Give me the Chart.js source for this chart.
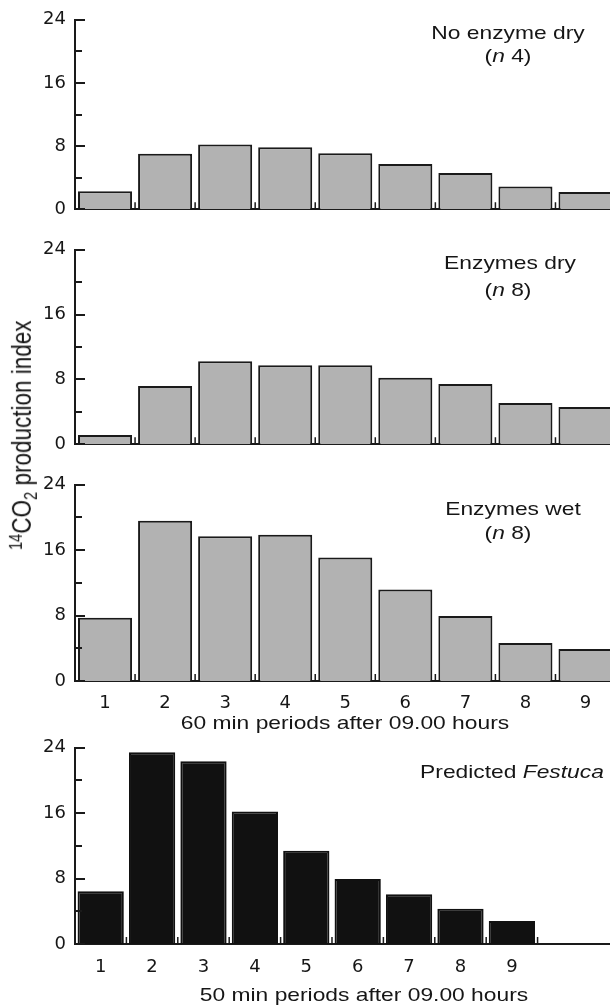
<!DOCTYPE html>
<html>
<head>
<meta charset="utf-8">
<script src="https://cdn.jsdelivr.net/npm/chart.js@4.4.1/dist/chart.umd.min.js"></script>
<style>
html,body{margin:0;padding:0;background:#fff;}
body{width:610px;height:1007px;position:relative;overflow:hidden;font-family:"Liberation Sans",Arial,sans-serif;color:#161616;}
.panel{position:absolute;left:0;}
.panel canvas{display:block;}
.lbl{position:absolute;width:400px;text-align:center;white-space:nowrap;font-size:19px;line-height:19px;transform:scaleX(1.2);transform-origin:50% 50%;}
.ytitle{position:absolute;left:-127.5px;top:423.75px;width:300px;height:22.5px;text-align:center;white-space:nowrap;font-size:22.5px;line-height:22.5px;transform:scaleX(1.2) rotate(-90deg);transform-origin:50% 50%;}
.sup{font-size:65%;position:relative;top:-0.55em;}
.sub{font-size:65%;position:relative;top:0.35em;}
</style>
</head>
<body>
<div class="panel" style="top:0px"><canvas id="c1" width="610" height="230"></canvas></div>
<div class="panel" style="top:230px"><canvas id="c2" width="610" height="235"></canvas></div>
<div class="panel" style="top:465px"><canvas id="c3" width="610" height="277"></canvas></div>
<div class="panel" style="top:728px"><canvas id="c4" width="610" height="279"></canvas></div>

<div class="lbl" style="left:307.5px;top:22.9px">No enzyme dry</div>
<div class="lbl" style="left:308px;top:45.7px">(<i>n</i> 4)</div>
<div class="lbl" style="left:309.5px;top:252.7px">Enzymes dry</div>
<div class="lbl" style="left:308px;top:279.5px">(<i>n</i> 8)</div>
<div class="lbl" style="left:313px;top:498.7px">Enzymes wet</div>
<div class="lbl" style="left:308px;top:522.7px">(<i>n</i> 8)</div>
<div class="lbl" style="left:312px;top:762.2px">Predicted <i>Festuca</i></div>
<div class="lbl" style="left:145px;top:713.4px">60 min periods after 09.00 hours</div>
<div class="lbl" style="left:164px;top:984.7px">50 min periods after 09.00 hours</div>
<div class="ytitle"><span class="sup">14</span>CO<span class="sub">2</span> production index</div>

<script>
// ---- data ----
const periods = [1, 2, 3, 4, 5, 6, 7, 8, 9];
const noEnzymeDry = [2.3, 7.05, 8.2, 7.85, 7.1, 5.75, 4.6, 2.9, 2.2];
const enzymesDry = [1.15, 7.2, 10.25, 9.75, 9.75, 8.2, 7.45, 5.1, 4.6];
const enzymesWet = [7.75, 19.6, 17.7, 17.9, 15.1, 11.2, 7.95, 4.65, 3.9];
const predictedFestuca = [6.45, 23.45, 22.35, 16.2, 11.4, 7.95, 6.1, 4.3, 2.8];
const yMax = 24;
const yStep = 4;
const yLabelStep = 8;

const AXIS = '#1a1a1a';
const TEXT = '#161616';

const frameTicks = {
  id: 'frameTicks',
  afterDatasetsDraw(chart, args, opts) {
    const {ctx, chartArea: a, scales: {x, y}} = chart;
    ctx.save();
    ctx.strokeStyle = opts.color;
    ctx.lineWidth = 2;
    ctx.beginPath();
    y.ticks.forEach(t => {
      const py = Math.round(y.getPixelForValue(t.value));
      const len = t.value % opts.labelStep === 0 ? 10 : 7;
      ctx.moveTo(a.left, py);
      ctx.lineTo(a.left + len, py);
    });
    ctx.stroke();
    ctx.lineWidth = 1.5;
    ctx.beginPath();
    opts.bounds.forEach(v => {
      const px = x.getPixelForValue(v);
      ctx.moveTo(px, a.bottom);
      ctx.lineTo(px, a.bottom - 7);
    });
    ctx.stroke();
    ctx.restore();
  }
};

function makePanel(id, values, cfg) {
  return new Chart(document.getElementById(id), {
    type: 'bar',
    data: {
      datasets: [{
        data: periods.map((p, i) => ({x: p, y: values[i]})),
        backgroundColor: cfg.fill,
        borderColor: cfg.edge,
        borderWidth: 2,
        barPercentage: 0.9,
        categoryPercentage: 1
      }]
    },
    options: {
      responsive: false,
      animation: false,
      events: [],
      layout: {padding: {top: cfg.padTop, right: 0, bottom: 0, left: 0}},
      plugins: {
        legend: {display: false},
        tooltip: {enabled: false},
        frameTicks: {color: AXIS, labelStep: yLabelStep, bounds: periods.map(p => p + 0.5)}
      },
      scales: {
        x: {
          type: 'linear',
          offset: false,
          min: 0.5,
          max: cfg.xMax,
          grid: {display: false, drawTicks: false, offset: false},
          border: {display: true, color: AXIS, width: 2},
          ticks: {
            display: cfg.showX,
            stepSize: 1,
            maxTicksLimit: 30,
            includeBounds: false,
            autoSkip: false,
            maxRotation: 0,
            padding: cfg.xPad,
            color: TEXT,
            font: {family: 'DejaVu Sans', size: 18},
            callback: v => periods.includes(v) ? String(v) : ''
          },
          afterFit: s => { s.height = cfg.xHeight; }
        },
        y: {
          min: 0,
          max: yMax,
          grid: {display: false, drawTicks: false},
          border: {display: true, color: AXIS, width: 2},
          ticks: {
            stepSize: yStep,
            padding: 9,
            color: TEXT,
            font: {family: 'DejaVu Sans', size: 18},
            callback: v => v % yLabelStep === 0 ? String(v) : ''
          },
          afterFit: s => { s.width = 75; }
        }
      }
    },
    plugins: [frameTicks]
  });
}

const GRAY = '#b2b2b2';
const EDGE = '#1a1a1a';
makePanel('c1', noEnzymeDry, {fill: GRAY, edge: EDGE, padTop: 13.3, xHeight: 20.7, xMax: 9.408, showX: false, xPad: 0});
makePanel('c2', enzymesDry, {fill: GRAY, edge: EDGE, padTop: 19.3, xHeight: 20.7, xMax: 9.408, showX: false, xPad: 0});
makePanel('c3', enzymesWet, {fill: GRAY, edge: EDGE, padTop: 19.3, xHeight: 61, xMax: 9.408, showX: true, xPad: 12});
makePanel('c4', predictedFestuca, {fill: '#111111', edge: '#111111', padTop: 19.3, xHeight: 63, xMax: 10.909, showX: true, xPad: 13});
</script>
</body>
</html>
